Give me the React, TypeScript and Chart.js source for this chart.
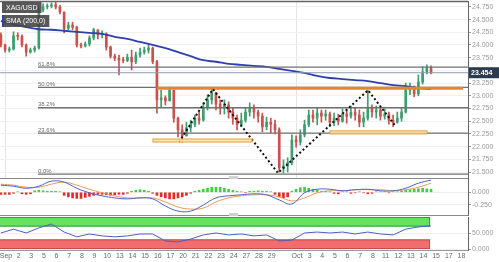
import React, { useEffect, useRef } from "react";
import { Chart, registerables } from "chart.js";

Chart.register(...registerables);

const FONT_FAMILY = "'Liberation Sans', Arial, sans-serif";

// ---------- x axis (trading-day slots) ----------
const DAY_LABELS = ["Sep","2","3","5","6","7","8","9","10","13","14","15","16","17","20","21","22","23","24","27","28","29","Oct","3","4","5","6","7","8","11","12","13","14","15","17","18"];
const DAY_SLOTS = [0,1,2,3,4,5,6,7,8,9,10,11,12,13,14,15,16,17,18,19,20,21,23,24,25,26,27,28,29,30,31,32,33,34,35,36];
const MONTH_SLOTS = [0, 23];
const X_MIN = -0.47;
const X_MAX = 36.52;
const FIRST_CANDLE_SLOT = -0.4;
const CANDLES_PER_DAY = 3;

// ---------- price candles (XAG/USD) ----------
const OPEN = [24.20,24.00,23.90,23.92,24.18,24.17,24.00,23.86,23.90,23.94,
 24.69,24.75,24.77,24.79,24.75,24.65,24.33,24.39,24.35,24.00,
 23.98,24.02,24.14,24.30,24.20,24.22,23.96,23.78,23.74,23.70,
 23.69,23.76,23.67,23.80,23.86,23.90,23.94,23.67,22.92,22.96,
 22.90,23.11,22.56,22.33,22.21,22.37,22.44,22.56,22.52,22.76,
 22.92,23.06,22.84,22.76,22.82,22.68,22.56,22.44,22.52,22.68,
 22.76,22.68,22.60,22.39,22.48,22.44,22.33,21.58,21.62,21.68,
 22.13,22.09,22.23,22.43,22.62,22.56,22.66,22.60,22.64,22.48,
 22.56,22.50,22.64,22.60,22.68,22.62,22.48,22.56,22.76,22.68,
 22.72,22.60,22.64,22.52,22.48,22.56,22.68,23.11,23.19,23.04,
 23.27,23.47,23.55];
const HIGH = [24.24,24.02,23.96,24.26,24.24,24.20,24.02,23.94,23.98,24.75,
 24.81,24.81,24.83,24.86,24.78,24.65,24.45,24.45,24.37,24.04,
 24.06,24.18,24.33,24.30,24.28,24.24,23.98,23.82,23.80,23.76,
 23.82,23.90,23.86,23.94,23.96,24.00,23.96,23.70,23.11,23.00,
 23.17,23.11,22.58,22.43,22.48,22.52,22.62,22.68,22.86,23.02,
 23.15,23.07,22.92,22.92,22.88,22.76,22.62,22.66,22.76,22.86,
 22.82,22.72,22.66,22.58,22.56,22.52,22.37,21.74,21.78,22.23,
 22.21,22.33,22.52,22.72,22.72,22.76,22.72,22.72,22.68,22.66,
 22.64,22.74,22.72,22.80,22.76,22.72,22.68,23.11,22.82,22.80,
 22.76,22.74,22.68,22.62,22.68,22.76,23.25,23.25,23.19,23.41,
 23.57,23.61,23.59];
const LOW = [23.96,23.86,23.86,23.90,24.10,23.96,23.78,23.84,23.86,23.92,
 24.65,24.71,24.73,24.71,24.61,24.24,24.30,24.30,23.96,23.94,
 23.96,23.98,24.10,24.12,24.14,23.90,23.74,23.69,23.41,23.65,
 23.67,23.51,23.63,23.76,23.82,23.84,23.63,22.66,22.78,22.82,
 22.92,22.48,22.19,22.09,22.23,22.29,22.39,22.44,22.50,22.72,
 22.84,22.72,22.64,22.64,22.56,22.44,22.33,22.39,22.48,22.60,
 22.56,22.48,22.29,22.33,22.27,22.25,21.50,21.48,21.50,21.64,
 21.99,22.03,22.19,22.39,22.48,22.43,22.48,22.52,22.39,22.41,
 22.43,22.48,22.46,22.56,22.52,22.39,22.39,22.52,22.58,22.56,
 22.52,22.54,22.44,22.39,22.46,22.50,22.66,23.02,22.98,23.00,
 23.23,23.43,23.43];
const CLOSE = [24.00,23.90,23.92,24.18,24.17,24.00,23.86,23.90,23.94,24.69,
 24.75,24.77,24.79,24.75,24.65,24.33,24.39,24.35,24.00,23.98,
 24.02,24.14,24.30,24.20,24.22,23.96,23.78,23.74,23.70,23.69,
 23.76,23.67,23.80,23.86,23.90,23.94,23.67,22.92,22.96,22.90,
 23.11,22.56,22.33,22.21,22.37,22.44,22.56,22.52,22.76,22.92,
 23.06,22.84,22.76,22.82,22.68,22.56,22.44,22.52,22.68,22.76,
 22.68,22.60,22.39,22.48,22.44,22.33,21.58,21.62,21.68,22.13,
 22.09,22.23,22.43,22.62,22.56,22.66,22.60,22.64,22.48,22.56,
 22.50,22.64,22.60,22.68,22.62,22.48,22.56,22.76,22.68,22.72,
 22.60,22.64,22.52,22.48,22.56,22.68,23.11,23.19,23.04,23.27,
 23.47,23.55,23.45];
const LAST_PRICE = 23.454;

// ---------- indicators (one sample per day, from first candle) ----------
const SMA_200 = [24.47,24.41,24.35,24.31,24.30,24.28,24.26,24.24,24.22,24.16,24.12,24.06,24.00,23.94,23.86,23.78,23.70,23.67,23.63,23.61,23.59,23.57,23.53,23.49,23.45,23.39,23.35,23.33,23.31,23.29,23.25,23.21,23.19,23.15,23.13];
const MACD_LINE = [0.14,0.12,0.08,0.12,0.22,0.20,0.08,-0.01,-0.07,-0.11,-0.13,-0.11,-0.13,-0.27,-0.37,-0.37,-0.25,-0.11,-0.07,-0.05,-0.03,-0.05,-0.15,-0.23,-0.01,0.06,0.06,0.03,0.05,0.06,0.03,0.03,0.08,0.18,0.24];
const MACD_SIGNAL = [0.16,0.14,0.10,0.10,0.16,0.20,0.14,0.06,-0.01,-0.07,-0.11,-0.11,-0.11,-0.19,-0.29,-0.33,-0.31,-0.19,-0.11,-0.07,-0.05,-0.05,-0.09,-0.17,-0.11,-0.01,0.03,0.03,0.05,0.05,0.05,0.03,0.05,0.10,0.18];
const MACD_HIST = [-0.04,-0.04,-0.04,-0.02,0.01,-0.03,-0.04,-0.03,0.03,0.04,
 0.03,0.02,0.02,0.02,0.01,-0.06,-0.09,-0.11,-0.12,-0.12,
 -0.10,-0.08,-0.06,-0.04,-0.04,-0.05,-0.06,-0.05,-0.04,-0.04,
 -0.02,0.02,0.04,0.05,0.04,0.02,-0.02,-0.06,-0.09,-0.11,
 -0.13,-0.13,-0.11,-0.09,-0.06,-0.02,0.02,0.04,0.06,0.08,
 0.10,0.10,0.10,0.08,0.06,0.04,0.02,0.01,-0.01,0.02,
 0.02,0.03,0.02,0.02,0.01,-0.04,-0.09,-0.11,-0.09,0.02,
 0.06,0.09,0.10,0.08,0.06,0.04,0.02,0.02,0.01,-0.02,
 -0.03,0.01,0.01,-0.02,-0.01,0.01,-0.01,-0.03,-0.02,0.01,
 0.01,0.01,-0.01,0.01,0.01,0.02,0.04,0.05,0.06,0.07,
 0.08,0.07,0.06];
const RSI_14 = [50,62,50,66,78,53,38,47,41,38,41,47,47,25,22,31,44,50,44,47,41,44,25,28,50,53,50,53,47,53,47,44,62,69,72];
const RSI_OVERBOUGHT = 70;
const RSI_OVERSOLD = 30;
const RSI_BAND_END = 33.52;

// ---------- annotations ----------
const PRICE_TICKS = [21.5,21.75,22,22.25,22.5,22.75,23,23.25,23.5,23.75,24,24.25,24.5,24.75];
const FIB_LEVELS = [21.46, 22.265, 22.765, 23.165, 23.565];
const FIB_LABELS = ["0.0%", "23.6%", "38.2%", "50.0%", "61.8%"];
const FIB_START = 2.53;
const RES_LEVEL = 23.15;
const RES_FROM = 11.94;
const RES_TO = 36.13;
const ZONE_FROM = [11.62, 25.61];
const ZONE_TO = [19.45, 33.28];
const ZONE_HIGH = [22.15, 22.31];
const ZONE_LOW = [22.09, 22.25];
const PATTERN_X = [13.68, 16.36, 21.5, 28.62, 30.83];
const PATTERN_Y = [22.09, 23.13, 21.48, 23.11, 22.39];

const UP = "#3c9d6e";
const DOWN = "#c9514f";

const candleX = (i: number) => FIRST_CANDLE_SLOT + i / CANDLES_PER_DAY;
const dayX = (k: number) => FIRST_CANDLE_SLOT + k;

const rightAxisFit = (w: number) => (scale: any) => {
  scale.width = w;
  scale.paddingTop = 0;
  scale.paddingBottom = 0;
};
const bottomAxisFit = (h: number) => (scale: any) => {
  scale.height = h;
  scale.paddingLeft = 0;
  scale.paddingRight = 0;
};

function drawTag(ctx: CanvasRenderingContext2D, x: number, y: number, h: number, text: string, stripe?: string) {
  ctx.font = `7px ${FONT_FAMILY}`;
  const w = ctx.measureText(text).width + 8;
  ctx.fillStyle = "rgba(70,70,70,0.9)";
  ctx.fillRect(x, y, w, h);
  if (stripe) {
    ctx.fillStyle = stripe;
    ctx.fillRect(x, y, 2, h);
  }
  ctx.fillStyle = "#ffffff";
  ctx.textAlign = "left";
  ctx.textBaseline = "middle";
  ctx.fillText(text, x + 4, y + h / 2 + 0.5);
}

const baseOptions = {
  responsive: false,
  animation: false as const,
  devicePixelRatio: 1,
  events: [] as any[],
  plugins: { legend: { display: false }, tooltip: { enabled: false } },
};

export default function App() {
  const mainRef = useRef<HTMLCanvasElement | null>(null);
  const macdRef = useRef<HTMLCanvasElement | null>(null);
  const rsiRef = useRef<HTMLCanvasElement | null>(null);

  useEffect(() => {
    document.body.style.margin = "0";
    const colors = CLOSE.map((c, i) => (c >= OPEN[i] ? UP : DOWN));

    const mainOverlay = {
      id: "mainOverlay",
      afterDatasetsDraw(chart: any) {
        const { ctx, chartArea } = chart;
        const xs = chart.scales.x;
        const ys = chart.scales.y;
        ctx.save();
        for (let i = 0; i < ZONE_FROM.length; i++) {
          const x0 = xs.getPixelForValue(ZONE_FROM[i]);
          const x1 = xs.getPixelForValue(ZONE_TO[i]);
          const y0 = ys.getPixelForValue(ZONE_HIGH[i]);
          const y1 = ys.getPixelForValue(ZONE_LOW[i]);
          ctx.fillStyle = "rgba(250,226,160,0.85)";
          ctx.fillRect(x0, y0, x1 - x0, y1 - y0);
          ctx.strokeStyle = "#e2a044";
          ctx.lineWidth = 1;
          ctx.strokeRect(x0, y0, x1 - x0, y1 - y0);
        }
        ctx.font = `6px ${FONT_FAMILY}`;
        ctx.fillStyle = "#6a6a6a";
        ctx.textAlign = "left";
        ctx.textBaseline = "alphabetic";
        FIB_LEVELS.forEach((lv, i) => {
          ctx.fillText(FIB_LABELS[i], xs.getPixelForValue(FIB_START), ys.getPixelForValue(lv) - 1.5);
        });
        ctx.strokeStyle = "#666";
        ctx.lineWidth = 1.5;
        ctx.beginPath();
        ctx.moveTo(chartArea.left, chartArea.top + 0.5);
        ctx.lineTo(chartArea.right, chartArea.top + 0.5);
        ctx.stroke();
        ctx.restore();
      },
      afterDraw(chart: any) {
        const { ctx, chartArea } = chart;
        const ys = chart.scales.y;
        ctx.save();
        drawTag(ctx, 2, 2, 11, "XAG/USD");
        drawTag(ctx, 2, 15, 12, "SMA (200,0)", "#2f3fae");
        const py = ys.getPixelForValue(LAST_PRICE);
        ctx.fillStyle = "#2b3c4e";
        ctx.fillRect(chartArea.right + 1, py - 5.5, 30, 11);
        ctx.fillStyle = "#ffffff";
        ctx.font = `bold 7px ${FONT_FAMILY}`;
        ctx.textAlign = "left";
        ctx.textBaseline = "middle";
        ctx.fillText(LAST_PRICE.toFixed(3), chartArea.right + 3, py + 0.5);
        ctx.fillStyle = "#d0d0d0";
        ctx.fillRect(229, chartArea.bottom - 2, 9, 3);
        ctx.restore();
      },
    };

    const main = new Chart(mainRef.current as HTMLCanvasElement, {
      type: "bar",
      data: {
        datasets: [
          {
            type: "line",
            data: PATTERN_X.map((x, i) => ({ x, y: PATTERN_Y[i] })),
            borderColor: "#111111",
            borderWidth: 2,
            borderDash: [2, 2.5],
            pointRadius: 0,
            order: 1,
          },
          {
            type: "line",
            data: [{ x: RES_FROM, y: RES_LEVEL }, { x: RES_TO, y: RES_LEVEL }],
            borderColor: "#e6862c",
            borderWidth: 3,
            pointRadius: 0,
            order: 2,
          },
          ...FIB_LEVELS.map((lv) => ({
            type: "line" as const,
            data: [{ x: FIB_START, y: lv }, { x: X_MAX, y: lv }],
            borderColor: "#707070",
            borderWidth: 1.3,
            pointRadius: 0,
            order: 3,
          })),
          {
            type: "line",
            data: [{ x: X_MIN, y: LAST_PRICE }, { x: X_MAX, y: LAST_PRICE }],
            borderColor: "#8d9db2",
            borderWidth: 1,
            pointRadius: 0,
            order: 4,
          },
          {
            type: "line",
            data: SMA_200.map((v, k) => ({ x: dayX(k), y: v })),
            borderColor: "#2f3fae",
            borderWidth: 1.8,
            pointRadius: 0,
            tension: 0.4,
            order: 5,
          },
          {
            type: "bar",
            data: CLOSE.map((c, i) => ({
              x: candleX(i),
              y: [Math.min(LOW[i], OPEN[i], c), Math.max(HIGH[i], OPEN[i], c)],
            })),
            backgroundColor: colors,
            barThickness: 1,
            grouped: false,
            order: 10,
          },
          {
            type: "bar",
            data: CLOSE.map((c, i) => ({ x: candleX(i), y: [OPEN[i], c] })),
            backgroundColor: colors,
            barThickness: 2,
            minBarLength: 1,
            grouped: false,
            order: 9,
          },
        ] as any,
      },
      options: {
        ...baseOptions,
        layout: { padding: { top: 1, bottom: 1, left: 0, right: 0 } },
        scales: {
          x: {
            type: "linear",
            min: X_MIN,
            max: X_MAX,
            offset: false,
            afterBuildTicks: (s: any) => {
              s.ticks = MONTH_SLOTS.map((v) => ({ value: v }));
            },
            ticks: { display: false },
            grid: { color: "#e4e4e4", drawTicks: false, offset: false },
            border: { display: true, color: "#8a8a8a" },
            afterFit: bottomAxisFit(0),
          },
          y: {
            type: "linear",
            position: "right",
            min: 21.382,
            max: 24.866,
            afterBuildTicks: (s: any) => {
              s.ticks = PRICE_TICKS.map((v) => ({ value: v }));
            },
            ticks: {
              color: "#9a9a9a",
              font: { size: 7, family: FONT_FAMILY },
              padding: 1,
              callback: (v: any) => Number(v).toFixed(3),
            },
            grid: { color: "#f1f1f1", tickColor: "#999999", tickLength: 3 },
            border: { color: "#666666" },
            afterFit: rightAxisFit(31),
          },
        },
      } as any,
      plugins: [mainOverlay],
    });

    const macdOverlay = {
      id: "macdOverlay",
      afterDraw(chart: any) {
        const { ctx, chartArea } = chart;
        ctx.save();
        drawTag(ctx, 3, 184, 9, "MACD (12,26,9)", "#4a62c8");
        ctx.fillStyle = "#d0d0d0";
        ctx.fillRect(229, chartArea.bottom - 2, 9, 3);
        ctx.restore();
      },
    };

    const macd = new Chart(macdRef.current as HTMLCanvasElement, {
      type: "bar",
      data: {
        datasets: [
          {
            type: "line",
            data: MACD_LINE.map((v, k) => ({ x: dayX(k), y: v })),
            borderColor: "#4a62c8",
            borderWidth: 1,
            pointRadius: 0,
            tension: 0.4,
            order: 1,
          },
          {
            type: "line",
            data: MACD_SIGNAL.map((v, k) => ({ x: dayX(k), y: v })),
            borderColor: "#eb9a5a",
            borderWidth: 1,
            pointRadius: 0,
            tension: 0.4,
            order: 2,
          },
          {
            type: "bar",
            data: MACD_HIST.map((v, i) => ({ x: candleX(i), y: v })),
            backgroundColor: MACD_HIST.map((v) => (v >= 0 ? "#3fcf3f" : "#e02c2c")),
            barThickness: 2,
            grouped: false,
            order: 5,
          },
        ] as any,
      },
      options: {
        ...baseOptions,
        layout: { padding: { top: 0, bottom: 1, left: 0, right: 0 } },
        scales: {
          x: {
            type: "linear",
            min: X_MIN,
            max: X_MAX,
            offset: false,
            ticks: { display: false },
            grid: { display: false, offset: false },
            border: { display: true, color: "#8a8a8a" },
            afterFit: bottomAxisFit(0),
          },
          y: {
            type: "linear",
            position: "right",
            min: -0.447,
            max: 0.262,
            afterBuildTicks: (s: any) => {
              s.ticks = [0, -0.25].map((v) => ({ value: v }));
            },
            ticks: {
              color: "#9a9a9a",
              font: { size: 7, family: FONT_FAMILY },
              padding: 1,
              callback: (v: any) => Number(v).toFixed(3),
            },
            grid: { color: "#eeeeee", tickColor: "#999999", tickLength: 3 },
            border: { color: "#666666" },
            afterFit: rightAxisFit(31),
          },
        },
      } as any,
      plugins: [macdOverlay],
    });

    const rsiOverlay = {
      id: "rsiOverlay",
      beforeDatasetsDraw(chart: any) {
        const { ctx, chartArea } = chart;
        const xs = chart.scales.x;
        const ys = chart.scales.y;
        const x0 = chartArea.left;
        const x1 = xs.getPixelForValue(RSI_BAND_END);
        ctx.save();
        const yTop = ys.getPixelForValue(100);
        const yOb = ys.getPixelForValue(RSI_OVERBOUGHT);
        const yOs = ys.getPixelForValue(RSI_OVERSOLD);
        const yZero = ys.getPixelForValue(0);
        ctx.fillStyle = "#66e35c";
        ctx.fillRect(x0, yTop, x1 - x0, yOb - yTop);
        ctx.strokeStyle = "#3a9a3a";
        ctx.lineWidth = 1;
        ctx.strokeRect(x0 - 1, yTop + 0.5, x1 - x0 + 0.5, yOb - yTop - 1);
        ctx.fillStyle = "#f26d6d";
        ctx.fillRect(x0, yOs, x1 - x0, yZero - yOs);
        ctx.strokeStyle = "#c84a4a";
        ctx.strokeRect(x0 - 1, yOs + 0.5, x1 - x0 + 0.5, yZero - yOs - 1);
        ctx.restore();
      },
      afterDraw(chart: any) {
        const { ctx } = chart;
        ctx.save();
        drawTag(ctx, 3, 222, 9, "RSI (14,70,30,1)", "#4a62c8");
        ctx.restore();
      },
    };

    const rsi = new Chart(rsiRef.current as HTMLCanvasElement, {
      type: "line",
      data: {
        datasets: [
          {
            data: RSI_14.map((v, k) => ({ x: dayX(k), y: v })),
            borderColor: "#4a5fc1",
            borderWidth: 1,
            pointRadius: 0,
            tension: 0,
          },
        ],
      },
      options: {
        ...baseOptions,
        layout: { padding: { top: 1, bottom: 0, left: 0, right: 0 } },
        scales: {
          x: {
            type: "linear",
            min: X_MIN,
            max: X_MAX,
            afterBuildTicks: (s: any) => {
              s.ticks = DAY_SLOTS.map((v) => ({ value: v }));
            },
            ticks: {
              autoSkip: false,
              maxRotation: 0,
              color: "#6a6a6a",
              font: { size: 7, family: FONT_FAMILY },
              padding: 2,
              callback: (_v: any, i: number) => DAY_LABELS[i],
            },
            grid: { display: false, drawTicks: false },
            border: { display: true, color: "#999999" },
            afterFit: bottomAxisFit(12),
          },
          y: {
            type: "linear",
            position: "right",
            min: -3.125,
            max: 100,
            afterBuildTicks: (s: any) => {
              s.ticks = [0, 50].map((v) => ({ value: v }));
            },
            ticks: {
              color: "#9a9a9a",
              font: { size: 7, family: FONT_FAMILY },
              padding: 1,
              callback: (v: any) => Number(v).toFixed(3),
            },
            grid: { color: "#f0f0f0", tickColor: "#999999", tickLength: 3 },
            border: { color: "#666666" },
            afterFit: rightAxisFit(31),
          },
        },
      } as any,
      plugins: [rsiOverlay],
    });

    return () => {
      main.destroy();
      macd.destroy();
      rsi.destroy();
    };
  }, []);

  return (
    <div style={{ position: "absolute", left: 0, top: 0, width: 499, height: 262, background: "#ffffff", overflow: "hidden" }}>
      <canvas ref={mainRef} width={499} height={179} style={{ position: "absolute", left: 0, top: 0 }} />
      <canvas ref={macdRef} width={499} height={37} style={{ position: "absolute", left: 0, top: 179 }} />
      <canvas ref={rsiRef} width={499} height={46} style={{ position: "absolute", left: 0, top: 216 }} />
    </div>
  );
}
